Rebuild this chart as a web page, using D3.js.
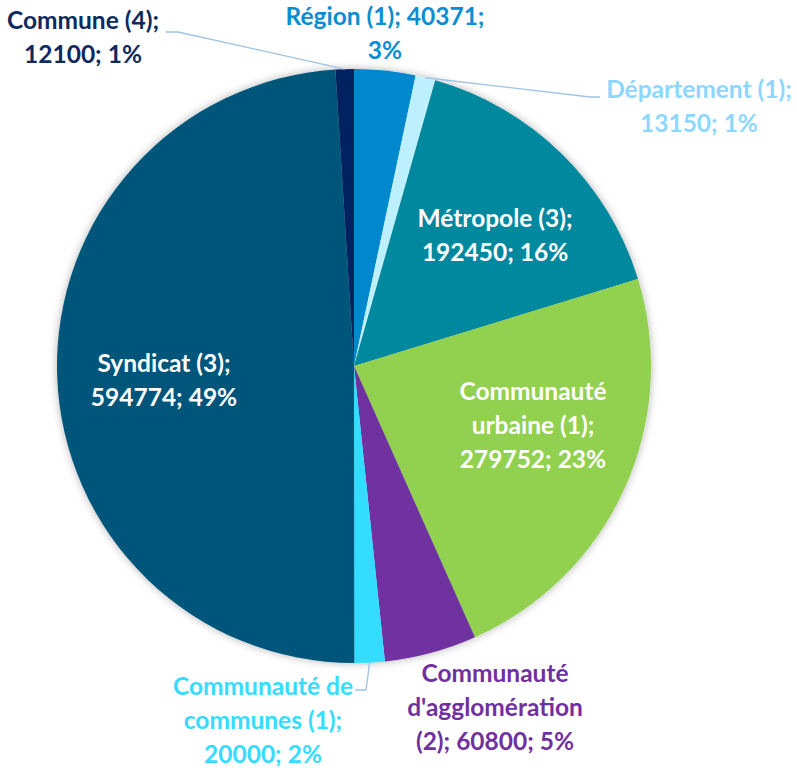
<!DOCTYPE html>
<html>
<head>
<meta charset="utf-8">
<script src="https://cdn.jsdelivr.net/npm/d3@7"></script>
<style>
  body { margin: 0; background: #fff; }
  text { font-family: Lato, "Noto Sans", sans-serif; font-weight: bold; }
</style>
</head>
<body>
<div id="chart"></div>
<script>
// data
var names = ["Région", "Département", "Métropole", "Communauté urbaine",
             "Communauté d'agglomération", "Communauté de communes", "Syndicat", "Commune"];
var counts = [1, 1, 3, 1, 2, 1, 3, 4];
var values = [40371, 13150, 192450, 279752, 60800, 20000, 594774, 12100];
var colors = ["#0088CE", "#BDF0FF", "#00889F", "#92D050", "#7030A0", "#33DDFF", "#02557A", "#002060"];

// label lines as they wrap in the original
var labelLines = [
    ["Région (1); 40371;", "3%"],
    ["Département (1);", "13150; 1%"],
    ["Métropole (3);", "192450; 16%"],
    ["Communauté", "urbaine (1);", "279752; 23%"],
    ["Communauté", "d'agglomération", "(2); 60800; 5%"],
    ["Communauté de", "communes (1);", "20000; 2%"],
    ["Syndicat (3);", "594774; 49%"],
    ["Commune (4);", "12100; 1%"]
];

var width = 797,
    height = 770,
    cx = 354,
    cy = 366,
    radius = 297,
    lineH = 34;

// outside label placement (relative to pie centre)
var outside = [
    {x: 31, y: -333, color: "#0A8DD2"},
    {x: 345, y: -260, color: "#8DD7FF", leader: [[236, -269], [246, -269]]},
    null,
    null,
    {x: 141, y: 341, color: "#7030A0"},
    {x: -91, y: 354, color: "#36DCFF", leader: [[12, 324], [1, 324]]},
    null,
    {x: -271, y: -329, color: "#0D2A60", leader: [[-176, -334], [-188, -334]]}
];
// small nudges of the inside labels away from the arc centroid
var nudge = [null, null, [8, 5], [6, -19], null, null, [0, 8], null];

var svg = d3.select("#chart")
    .append("svg")
    .attr("width", width)
    .attr("height", height);

var defs = svg.append("defs");
var filter = defs.append("filter")
    .attr("id", "shadow")
    .attr("x", "-20%").attr("y", "-20%")
    .attr("width", "140%").attr("height", "140%");
filter.append("feDropShadow")
    .attr("dx", 0).attr("dy", 0)
    .attr("stdDeviation", 4)
    .attr("flood-color", "#000")
    .attr("flood-opacity", 0.3);

var g = svg.append("g")
    .attr("transform", "translate(" + cx + "," + cy + ")");

var pie = d3.pie()
    .sort(null)
    .value(function(d) { return d; });

var arcs = pie(values);

var arc = d3.arc()
    .innerRadius(0)
    .outerRadius(radius);

var labelArc = d3.arc()
    .innerRadius(radius * 0.64)
    .outerRadius(radius * 0.64);

var edgeArc = d3.arc()
    .innerRadius(radius)
    .outerRadius(radius);

g.append("g")
    .attr("filter", "url(#shadow)")
    .selectAll("path")
    .data(arcs)
    .enter()
    .append("path")
    .attr("d", arc)
    .style("fill", function(d, i) { return colors[i]; });

// leader lines
arcs.forEach(function(d, i) {
    var o = outside[i];
    if (!o || !o.leader) return;
    var pts = [edgeArc.centroid(d)].concat(o.leader);
    g.append("path")
        .attr("d", d3.line()(pts))
        .style("fill", "none")
        .style("stroke", "#9DC3E6")
        .style("stroke-width", 1.3);
});

// labels
arcs.forEach(function(d, i) {
    var o = outside[i];
    var pos;
    if (o) {
        pos = [o.x, o.y];
    } else {
        var c = labelArc.centroid(d);
        pos = [c[0] + nudge[i][0], c[1] + nudge[i][1]];
    }
    var lines = labelLines[i];
    var t = g.append("text")
        .attr("text-anchor", "middle")
        .style("font-size", "24.5px")
        .style("fill", o ? o.color : "#fff");
    var y0 = pos[1] - (lines.length - 1) * lineH / 2;
    lines.forEach(function(l, k) {
        t.append("tspan")
            .attr("x", pos[0])
            .attr("y", y0 + k * lineH)
            .attr("dy", "0.35em")
            .text(l);
    });
});
</script>
</body>
</html>
